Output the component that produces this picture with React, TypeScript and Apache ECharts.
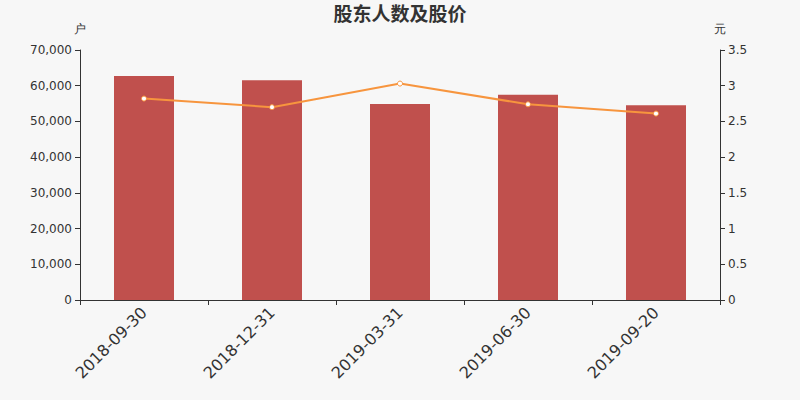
import React, { useEffect, useRef } from 'react';
import * as echarts from 'echarts';

const dates = ['2018-09-30', '2018-12-31', '2019-03-31', '2019-06-30', '2019-09-20'];
const holders = [62700, 61500, 54900, 57500, 54500];
const prices = [2.82, 2.7, 3.03, 2.74, 2.61];

const FG_COLOR = '#333333';
const BAR_COLOR = '#c0504d';
const LINE_COLOR = '#f7953e';
const FONT = 'DejaVu Sans, sans-serif';

const fmt = (v: number) => v.toLocaleString('en-US');

const App = (): JSX.Element => {
  const divEL = useRef<HTMLDivElement>(null);

  useEffect(() => {
    const instance = echarts.init(divEL.current as any, null, { renderer: 'svg' });
    const option: echarts.EChartsOption = {
      animation: false,
      backgroundColor: '#f7f7f7',
      textStyle: { fontFamily: FONT },
      title: {
        text: '股东人数及股价',
        left: 'center',
        top: -2,
        textStyle: {
          color: FG_COLOR,
          fontSize: 19,
          fontWeight: 'bold',
          fontFamily: 'Noto Sans CJK SC, sans-serif',
        },
      },
      grid: {
        left: 80,
        right: 80,
        top: 50,
        bottom: 100,
      },
      xAxis: {
        type: 'category',
        data: dates,
        axisLine: { lineStyle: { color: FG_COLOR } },
        axisTick: { show: true, alignWithLabel: false },
        axisLabel: {
          color: FG_COLOR,
          fontSize: 16,
          rotate: 45,
          interval: 0,
          margin: 10,
        },
      },
      yAxis: [
        {
          type: 'value',
          name: '户',
          min: 0,
          max: 70000,
          interval: 10000,
          nameTextStyle: { color: FG_COLOR, fontSize: 12 },
          axisLine: { show: true, lineStyle: { color: FG_COLOR } },
          axisTick: { show: true },
          axisLabel: { color: FG_COLOR, fontSize: 12, formatter: fmt },
          splitLine: { show: false },
        },
        {
          type: 'value',
          name: '元',
          min: 0,
          max: 3.5,
          interval: 0.5,
          nameTextStyle: { color: FG_COLOR, fontSize: 12 },
          axisLine: { show: true, lineStyle: { color: FG_COLOR } },
          axisTick: { show: true },
          axisLabel: { color: FG_COLOR, fontSize: 12 },
          splitLine: { show: false },
        },
      ],
      series: [
        {
          name: '股东人数',
          type: 'bar',
          data: holders,
          barWidth: 60,
          itemStyle: { color: BAR_COLOR },
          yAxisIndex: 0,
        },
        {
          name: '股价',
          type: 'line',
          data: prices,
          yAxisIndex: 1,
          symbol: 'circle',
          symbolSize: 5,
          lineStyle: { color: LINE_COLOR, width: 2 },
          itemStyle: { color: '#ffffff', borderColor: LINE_COLOR, borderWidth: 1 },
        },
      ],
    };
    instance.setOption(option);

    return () => {
      instance.dispose();
    };
  }, []);

  return (
    <div
      ref={divEL}
      style={{ position: 'fixed', left: 0, top: 0, width: 800, height: 400 }}
    ></div>
  );
};

export default App;
